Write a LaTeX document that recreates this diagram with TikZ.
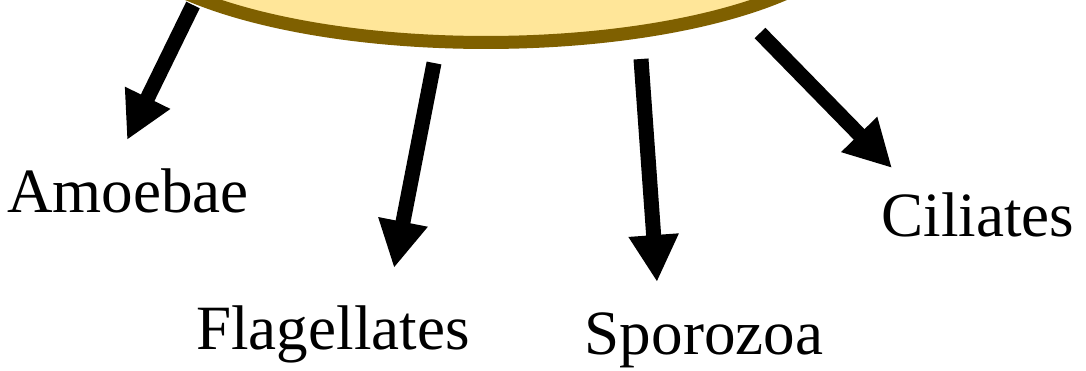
\documentclass[tikz,border=0pt]{standalone}
\usepackage{fontspec}
\setmainfont{Liberation Serif}
\usetikzlibrary{arrows.meta,shapes.geometric}
\definecolor{cellfill}{HTML}{FFE699}
\definecolor{celledge}{HTML}{7F6000}

\begin{document}
\begin{tikzpicture}[
    x=0.02cm, y=-0.02cm,
    cell/.style={draw=celledge, fill=cellfill, ellipse, line width=0.26cm, minimum width=14.98cm, minimum height=4.9cm, inner sep=0pt},
    arr/.style={line width=0.3cm, -{Triangle[length=0.94cm, width=0.94cm]}},
    lbl/.style={anchor=base, inner sep=0pt, font=\fontsize{35.9}{40}\selectfont}
]
\useasboundingbox (0,0) rectangle (1086,371);
\node[cell] (protozoa) at (486,-80) {};

\coordinate (amoeba-from) at (193,5);
\coordinate (amoeba-to) at (127,140);
\coordinate (flag-from) at (434,63);
\coordinate (flag-to) at (394,268);
\coordinate (sporo-from) at (641,59);
\coordinate (sporo-to) at (657,282);
\coordinate (cili-from) at (760,33);
\coordinate (cili-to) at (892,168);

\node[lbl] (amoebae) at (128,213) {Amoebae};
\node[lbl] (flagellates) at (333,350) {Flagellates};
\node[lbl] (sporozoa) at (704,355) {Sporozoa};
\node[lbl] (ciliates) at (978,237) {Ciliates};

\draw[arr] (amoeba-from) -- (amoeba-to);
\draw[arr] (flag-from) -- (flag-to);
\draw[arr] (sporo-from) -- (sporo-to);
\draw[arr] (cili-from) -- (cili-to);
\end{tikzpicture}
\end{document}
